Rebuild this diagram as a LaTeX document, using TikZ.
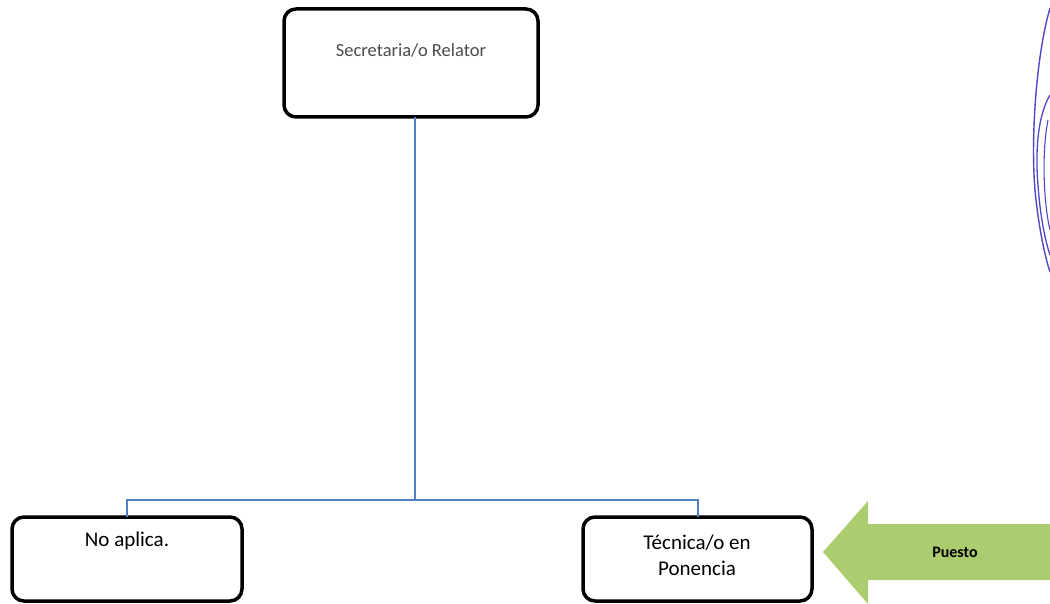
\documentclass[tikz,border=0pt]{standalone}
\usepackage{fontspec}
\setmainfont{Carlito}
\definecolor{conn}{RGB}{79,129,189}
\definecolor{arrowgreen}{RGB}{172,204,112}
\definecolor{sig}{RGB}{80,70,200}
\begin{document}
\begin{tikzpicture}[x=1pt,y=-1pt,
  box/.style={draw=black,line width=3.5pt,rounded corners=12pt,fill=white},
  conn line/.style={draw=conn,line width=1.4pt},
  lbl/.style={inner sep=0pt,text=black!85}]
\useasboundingbox (0,0) rectangle (1050,604);
% boxes
\draw[box] (284,9) rectangle (538,117);
\coordinate (topb) at (415,117);
\node[lbl,text=black!70,font=\fontsize{18.5}{22}\selectfont] (t1) at (411,50) {Secretaria/o Relator};
\draw[box] (12,517) rectangle (242,601);
\coordinate (lt) at (127,517);
\node[lbl,text=black,font=\fontsize{21}{25}\selectfont] (t2) at (127,541) {No aplica.};
\draw[box] (583,517) rectangle (812,601);
\coordinate (rt) at (698,517);
\node[lbl,text=black,font=\fontsize{21}{26}\selectfont,align=center] (t3) at (697,555) {Técnica/o en\\Ponencia};
% connectors
\coordinate (mid) at (415,500);
\draw[conn line] (topb) -- (mid);
\draw[conn line] (lt) -- (127,500) -- (698,500) -- (rt);
% green arrow
\fill[arrowgreen] (823,552) -- (868,501) -- (868,524) -- (1050,524) -- (1050,580) -- (868,580) -- (868,604) -- cycle;
\node[lbl,text=black,font=\bfseries\fontsize{16}{19}\selectfont] (t4) at (955,552) {Puesto};
% signature fragment
\draw[sig,line width=1.4pt] (1050,8) .. controls (1035,60) and (1030,150) .. (1036,200) .. controls (1040,235) and (1046,260) .. (1050,272);
\draw[sig,line width=1.3pt] (1050,95) .. controls (1038,115) and (1035,150) .. (1038,185) .. controls (1040,215) and (1045,240) .. (1050,255);
\draw[sig,line width=1.1pt] (1048,120) .. controls (1042,150) and (1043,200) .. (1050,230);
\end{tikzpicture}
\end{document}
